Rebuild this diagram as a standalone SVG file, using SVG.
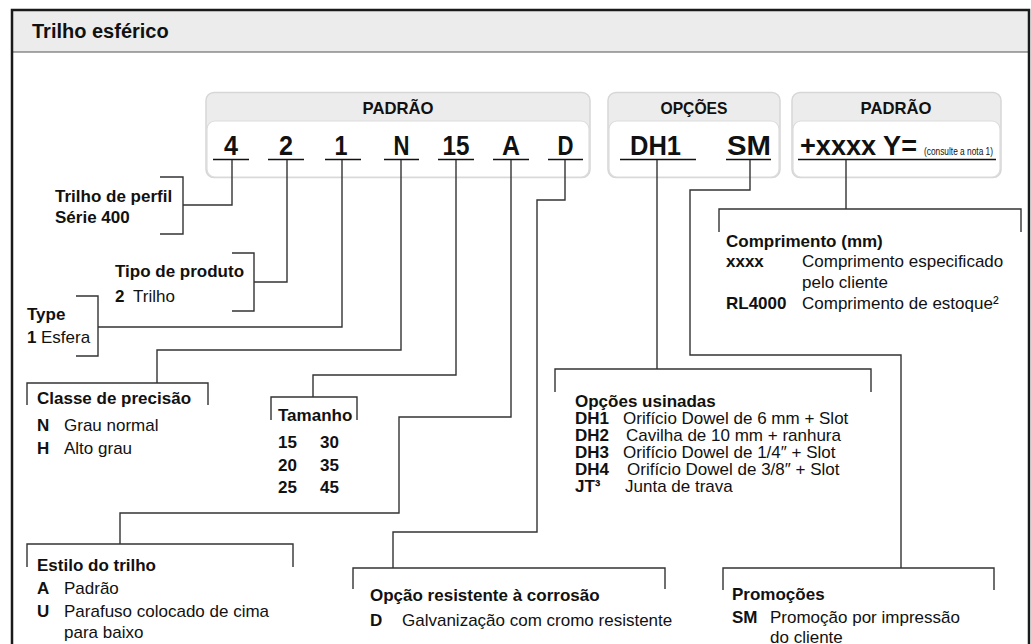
<svg xmlns="http://www.w3.org/2000/svg" width="1031" height="644" viewBox="0 0 1031 644">
<style>
.t{font-family:"Liberation Sans",Arial,sans-serif;font-size:17px;fill:#111}
.b{font-weight:bold}
.hd{font-family:"Liberation Sans",Arial,sans-serif;font-size:17px;font-weight:bold;fill:#111;text-anchor:middle}
.code{font-family:"Liberation Sans",Arial,sans-serif;font-size:28px;font-weight:bold;fill:#111;text-anchor:middle}
.ln{stroke:#333;stroke-width:1.4;fill:none}
.ul{stroke:#111;stroke-width:1.6;fill:none}
.boxo{fill:#ececec;stroke:#d6d6d6;stroke-width:1.5}
.boxi{fill:#fff;stroke:#dcdcdc;stroke-width:1.2}
</style>
<rect x="0" y="0" width="1031" height="644" fill="#fff"/>
<g id="frame">
<rect x="12" y="10" width="1017" height="42" fill="#ececec"/>
<line x1="12" y1="52" x2="1029" y2="52" stroke="#555" stroke-width="1.2"/>
<rect x="12" y="10" width="1017" height="700" fill="none" stroke="#1a1a1a" stroke-width="2.5"/>
<text x="32" y="38" style="font-family:'Liberation Sans',Arial,sans-serif;font-size:20px;font-weight:bold;fill:#111">Trilho esférico</text>
</g>
<g id="box-padrao1">
<rect class="boxo" x="206" y="92.5" width="384" height="85" rx="8"/>
<rect class="boxi" x="207" y="121" width="382" height="56" rx="8"/>
<text class="hd" x="398" y="114" textLength="71" lengthAdjust="spacingAndGlyphs">PADRÃO</text>
<text class="code" x="231" y="155" textLength="14" lengthAdjust="spacingAndGlyphs">4</text>
<text class="code" x="286" y="155" textLength="14" lengthAdjust="spacingAndGlyphs">2</text>
<text class="code" x="341" y="155" textLength="13" lengthAdjust="spacingAndGlyphs">1</text>
<text class="code" x="401.5" y="155" textLength="16" lengthAdjust="spacingAndGlyphs">N</text>
<text class="code" x="456" y="155" textLength="27" lengthAdjust="spacingAndGlyphs">15</text>
<text class="code" x="511" y="155" textLength="18" lengthAdjust="spacingAndGlyphs">A</text>
<text class="code" x="565.5" y="155" textLength="16" lengthAdjust="spacingAndGlyphs">D</text>
<path class="ul" d="M213,159.5H249M268,159.5H304M325,159.5H361M384,159.5H419M438,159.5H474M493,159.5H529M548,159.5H583"/>
</g>
<g id="box-opcoes">
<rect class="boxo" x="608" y="92.5" width="172" height="85" rx="8"/>
<rect class="boxi" x="609" y="121" width="170" height="56" rx="8"/>
<text class="hd" x="694" y="114" textLength="67" lengthAdjust="spacingAndGlyphs">OPÇÕES</text>
<text class="code" x="655.5" y="155" textLength="51" lengthAdjust="spacingAndGlyphs">DH1</text>
<text class="code" x="749" y="155" textLength="44" lengthAdjust="spacingAndGlyphs">SM</text>
<path class="ul" d="M620,159.5H696M726,159.5H771"/>
</g>
<g id="box-padrao2">
<rect class="boxo" x="792" y="92.5" width="209" height="85" rx="8"/>
<rect class="boxi" x="793" y="121" width="207" height="56" rx="8"/>
<text class="hd" x="896" y="114" textLength="71" lengthAdjust="spacingAndGlyphs">PADRÃO</text>
<text class="code" x="800" y="155" style="text-anchor:start" textLength="117" lengthAdjust="spacingAndGlyphs">+xxxx Y=</text>
<text class="t" x="924" y="155" style="font-size:10px" textLength="69" lengthAdjust="spacingAndGlyphs">(consulte a nota 1)</text>
<path class="ul" d="M798,159.5H996"/>
</g>
<g id="connectors">
<path class="ln" d="M232,160V205H183M160,177H183V234H160"/>
<path class="ln" d="M287,160V282H254M232,253H254V311H232"/>
<path class="ln" d="M342,160V327H98M76,296H98V356H76"/>
<path class="ln" d="M401,160V350H157V383M27,405V383H208V405"/>
<path class="ln" d="M456,160V375H313V397M271,420V397H357V420"/>
<path class="ln" d="M511,160V417H399V513H120V544M27,567V544H293V567"/>
<path class="ln" d="M565,160V200H537V532H393V568M353,589V568H665V589"/>
<path class="ln" d="M657,160V369M555,392V369H871V392"/>
<path class="ln" d="M750,160V190H690V355H901V568M723,590V568H994V590"/>
<path class="ln" d="M846,160V209M719,232V209H1021V232"/>
</g>
<g id="node-perfil">
<text class="t b" x="55" y="202">Trilho de perfil</text>
<text class="t b" x="55" y="223">Série 400</text>
</g>
<g id="node-tipo">
<text class="t b" x="115" y="277">Tipo de produto</text>
<text class="t" x="115" y="302"><tspan class="b">2</tspan><tspan x="133">Trilho</tspan></text>
</g>
<g id="node-type">
<text class="t b" x="27" y="320">Type</text>
<text class="t" x="27" y="343"><tspan class="b">1</tspan><tspan x="41">Esfera</tspan></text>
</g>
<g id="node-classe">
<text class="t b" x="37" y="404">Classe de precisão</text>
<text class="t" x="37" y="431"><tspan class="b">N</tspan><tspan x="64">Grau normal</tspan></text>
<text class="t" x="37" y="454"><tspan class="b">H</tspan><tspan x="64">Alto grau</tspan></text>
</g>
<g id="node-tamanho">
<text class="t b" x="278" y="421">Tamanho</text>
<text class="t b" x="278" y="448">15<tspan x="320">30</tspan></text>
<text class="t b" x="278" y="471">20<tspan x="320">35</tspan></text>
<text class="t b" x="278" y="493">25<tspan x="320">45</tspan></text>
</g>
<g id="node-estilo">
<text class="t b" x="37" y="571">Estilo do trilho</text>
<text class="t" x="37" y="594"><tspan class="b">A</tspan><tspan x="64">Padrão</tspan></text>
<text class="t" x="37" y="617"><tspan class="b">U</tspan><tspan x="64">Parafuso colocado de cima</tspan></text>
<text class="t" x="64" y="638">para baixo</text>
</g>
<g id="node-corrosao">
<text class="t b" x="370" y="601">Opção resistente à corrosão</text>
<text class="t" x="370" y="626"><tspan class="b">D</tspan><tspan x="402">Galvanização com cromo resistente</tspan></text>
</g>
<g id="node-usinadas">
<text class="t b" x="575" y="407">Opções usinadas</text>
<text class="t" x="575" y="424"><tspan class="b">DH1</tspan><tspan x="623">Orifício Dowel de 6 mm + Slot</tspan></text>
<text class="t" x="575" y="441"><tspan class="b">DH2</tspan><tspan x="626">Cavilha de 10 mm + ranhura</tspan></text>
<text class="t" x="575" y="458"><tspan class="b">DH3</tspan><tspan x="623">Orifício Dowel de 1/4″ + Slot</tspan></text>
<text class="t" x="575" y="475"><tspan class="b">DH4</tspan><tspan x="627">Orifício Dowel de 3/8″ + Slot</tspan></text>
<text class="t" x="575" y="492"><tspan class="b">JT³</tspan><tspan x="625">Junta de trava</tspan></text>
</g>
<g id="node-promocoes">
<text class="t b" x="732" y="600">Promoções</text>
<text class="t" x="732" y="623"><tspan class="b">SM</tspan><tspan x="770">Promoção por impressão</tspan></text>
<text class="t" x="770" y="643">do cliente</text>
</g>
<g id="node-comprimento">
<text class="t b" x="726" y="247">Comprimento (mm)</text>
<text class="t" x="726" y="267"><tspan class="b">xxxx</tspan><tspan x="802">Comprimento especificado</tspan></text>
<text class="t" x="802" y="288">pelo cliente</text>
<text class="t" x="726" y="309"><tspan class="b">RL4000</tspan><tspan x="802">Comprimento de estoque²</tspan></text>
</g>
</svg>
